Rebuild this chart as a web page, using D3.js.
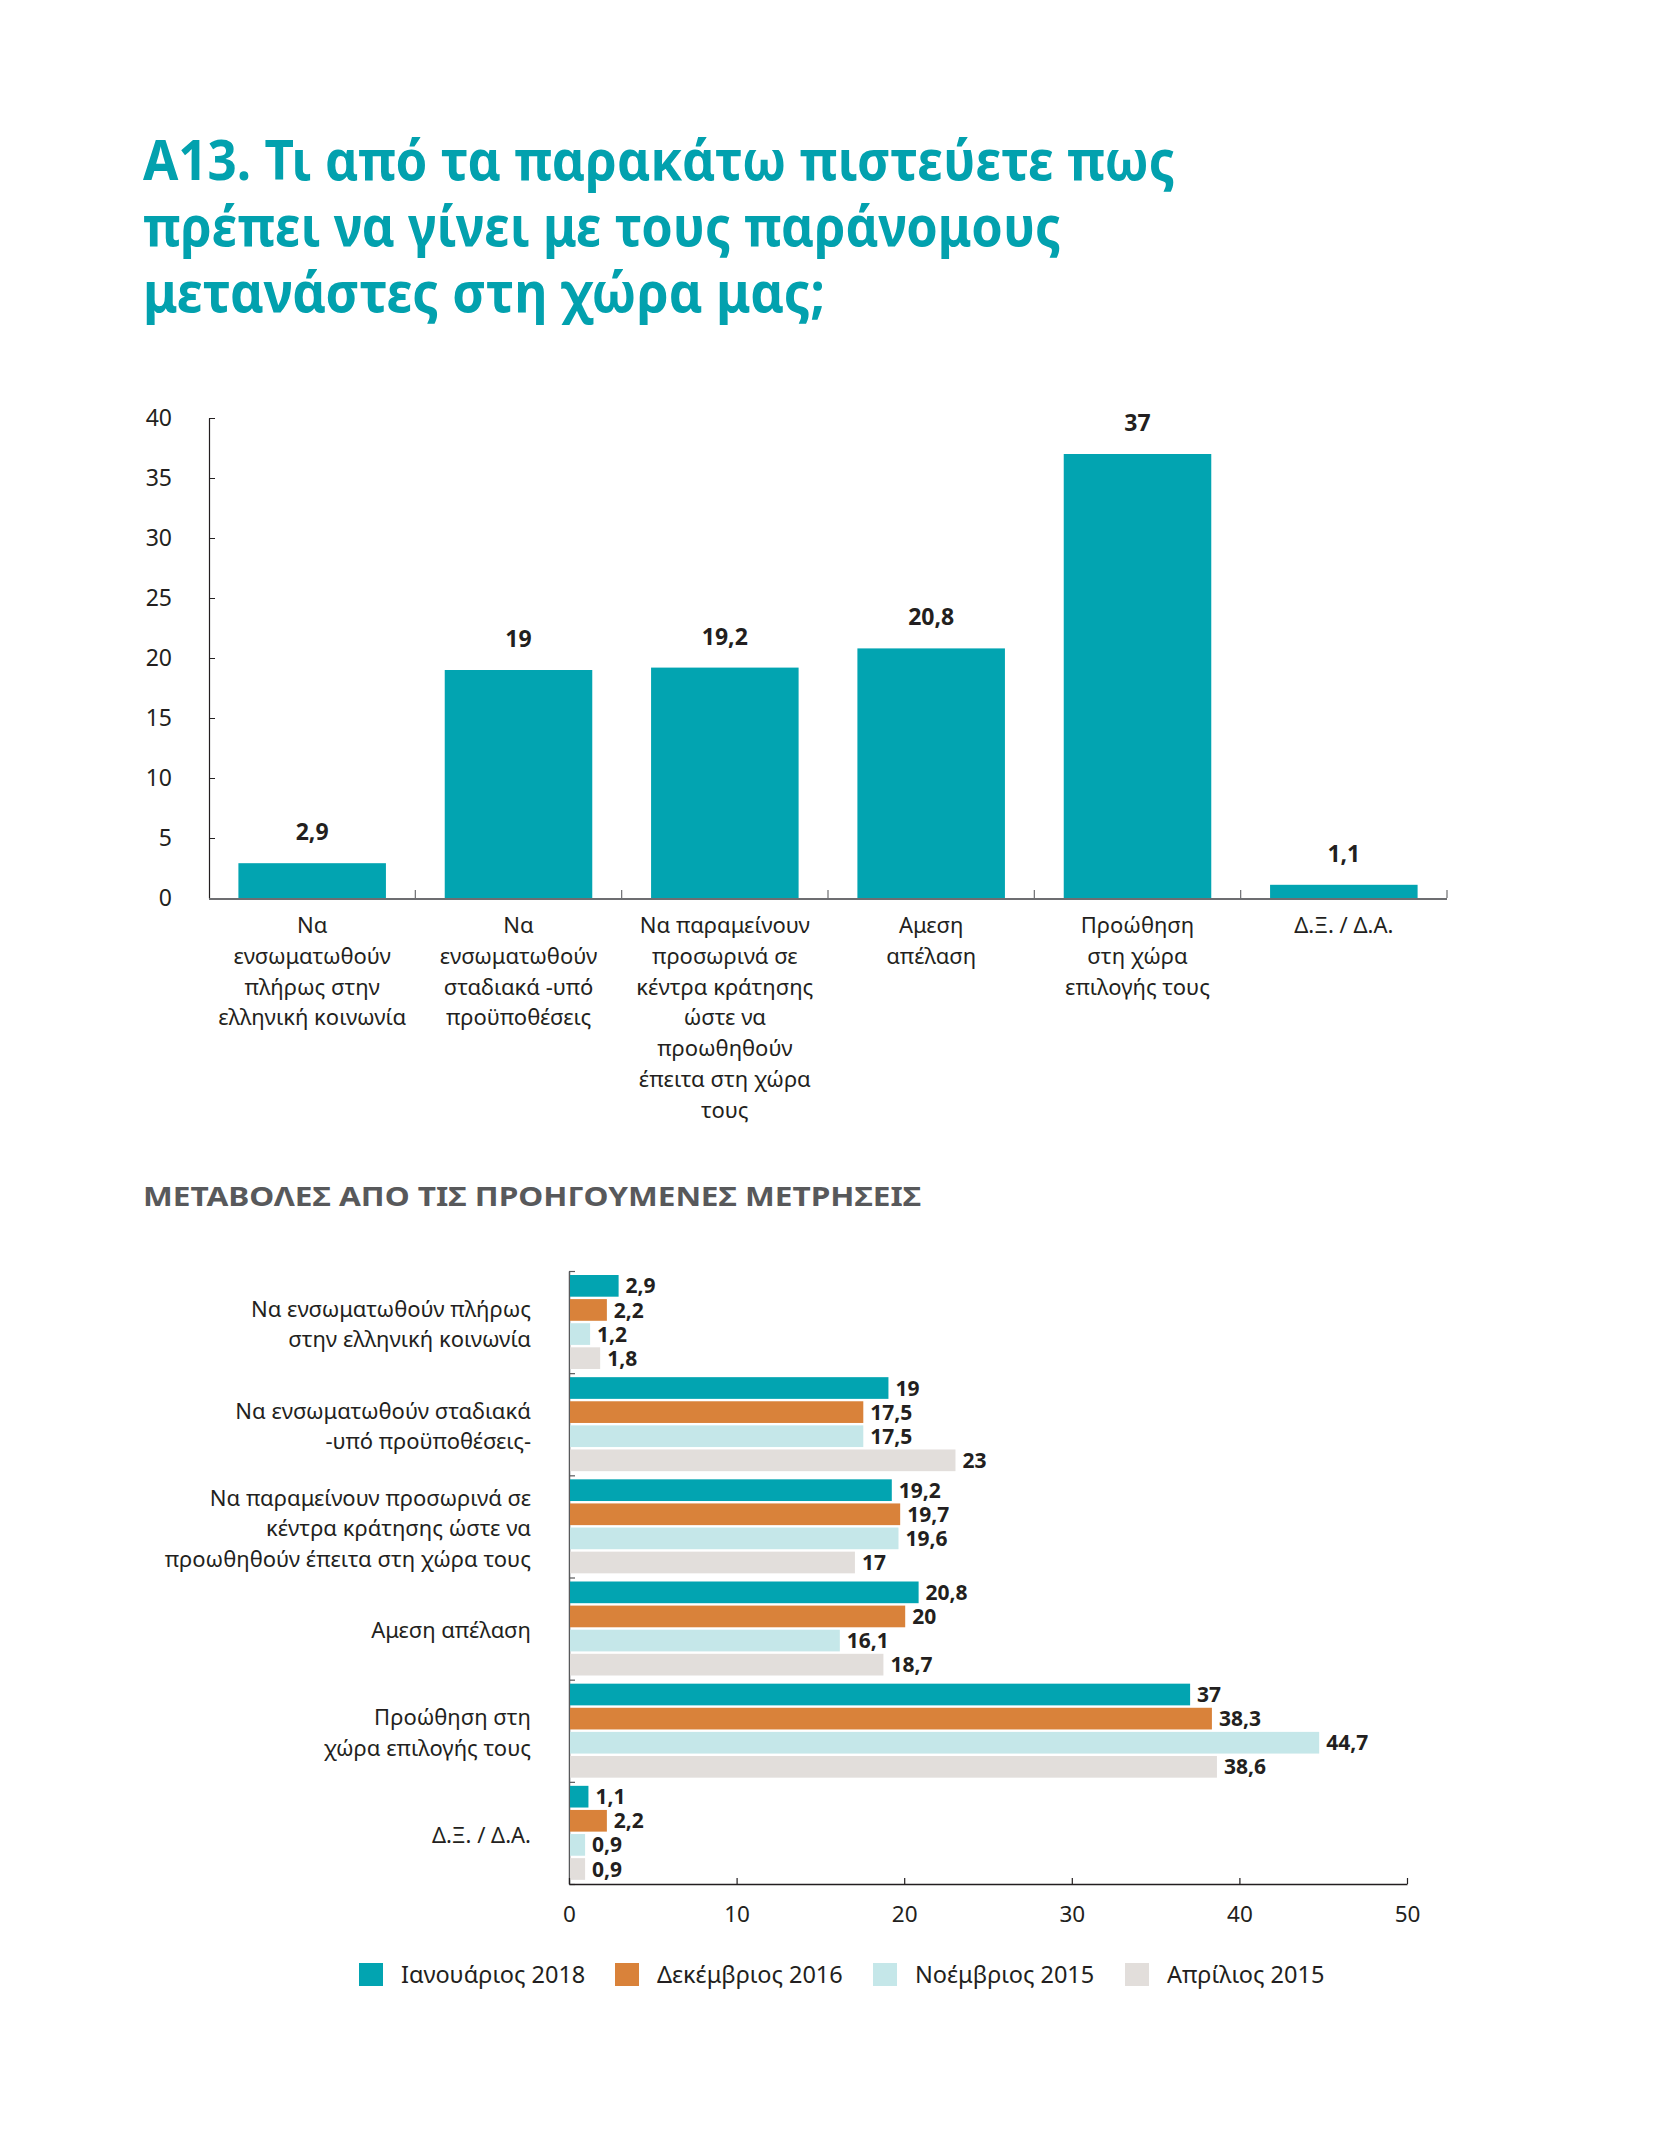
<!DOCTYPE html>
<html>
<head>
<meta charset="utf-8">
<script src="https://cdn.jsdelivr.net/npm/d3@7"></script>
<style>
  html, body { margin: 0; padding: 0; background: #ffffff; }
  svg { display: block; font-family: "Noto Sans", "Open Sans", "DejaVu Sans", sans-serif; }
</style>
</head>
<body>
<svg id="chart" width="1654" height="2151"></svg>
<script>
// ---------- DATA ----------
const titleLines = [
  "Α13. Τι από τα παρακάτω πιστεύετε πως",
  "πρέπει να γίνει με τους παράνομους",
  "μετανάστες στη χώρα μας;"
];
const sectionTitle = "ΜΕΤΑΒΟΛΕΣ ΑΠΟ ΤΙΣ ΠΡΟΗΓΟΥΜΕΝΕΣ ΜΕΤΡΗΣΕΙΣ";

const categories = ["c1", "c2", "c3", "c4", "c5", "c6"];
const topLabels = [
  ["Να", "ενσωματωθούν", "πλήρως στην", "ελληνική κοινωνία"],
  ["Να", "ενσωματωθούν", "σταδιακά -υπό", "προϋποθέσεις"],
  ["Να παραμείνουν", "προσωρινά σε", "κέντρα κράτησης", "ώστε να", "προωθηθούν", "έπειτα στη χώρα", "τους"],
  ["Αμεση", "απέλαση"],
  ["Προώθηση", "στη χώρα", "επιλογής τους"],
  ["Δ.Ξ. / Δ.Α."]
];
const bottomLabels = [
  ["Να ενσωματωθούν πλήρως", "στην ελληνική κοινωνία"],
  ["Να ενσωματωθούν σταδιακά", "-υπό προϋποθέσεις-"],
  ["Να παραμείνουν προσωρινά σε", "κέντρα κράτησης ώστε να", "προωθηθούν έπειτα στη χώρα τους"],
  ["Αμεση απέλαση"],
  ["Προώθηση στη", "χώρα επιλογής τους"],
  ["Δ.Ξ. / Δ.Α."]
];
const topValues = [2.9, 19, 19.2, 20.8, 37, 1.1];

const seriesNames = ["Ιανουάριος 2018", "Δεκέμβριος 2016", "Νοέμβριος 2015", "Απρίλιος 2015"];
const jan2018 = [2.9, 19, 19.2, 20.8, 37, 1.1];
const dec2016 = [2.2, 17.5, 19.7, 20, 38.3, 2.2];
const nov2015 = [1.2, 17.5, 19.6, 16.1, 44.7, 0.9];
const apr2015 = [1.8, 23, 17, 18.7, 38.6, 0.9];
const seriesValues = [jan2018, dec2016, nov2015, apr2015];
const seriesColors = ["#02A4B1", "#D9823A", "#C5E7E9", "#E2DEDB"];

const topTicks = [0, 5, 10, 15, 20, 25, 30, 35, 40];
const bottomTicks = [0, 10, 20, 30, 40, 50];

const fmt = v => String(v).replace(".", ",");

// ---------- DRAW ----------
const svg = d3.select("#chart");
const TEAL = "#02A1AE";
const DARK = "#231F20";

// Title
const titleWidths = [1032, 918, 682];
svg.append("g").selectAll("text").data(titleLines).join("text")
  .attr("x", 143)
  .attr("y", (d, i) => 180 + i * 66)
  .attr("font-size", 56)
  .attr("font-weight", 700)
  .attr("fill", TEAL)
  .attr("textLength", (d, i) => titleWidths[i])
  .attr("lengthAdjust", "spacingAndGlyphs")
  .text(d => d);

// ---------- Top bar chart ----------
const x1 = d3.scaleBand().domain(categories).range([209, 1447]).paddingInner(0.285).paddingOuter(0.1425);
const y1 = d3.scaleLinear().domain([0, 40]).range([898, 418]);

const g1 = svg.append("g");

g1.selectAll("rect.bar").data(categories).join("rect")
  .attr("class", "bar")
  .attr("x", d => x1(d))
  .attr("width", x1.bandwidth())
  .attr("y", (d, i) => y1(topValues[i]))
  .attr("height", (d, i) => y1(0) - y1(topValues[i]))
  .attr("fill", "#02A4B1");

g1.selectAll("text.val").data(categories).join("text")
  .attr("class", "val")
  .attr("x", d => x1(d) + x1.bandwidth() / 2)
  .attr("y", (d, i) => y1(topValues[i]) - 23)
  .attr("text-anchor", "middle")
  .attr("font-size", 23)
  .attr("font-weight", 700)
  .attr("fill", DARK)
  .text((d, i) => fmt(topValues[i]));

// y axis
const yAxis1 = g1.append("g")
  .attr("transform", "translate(209,0)")
  .call(d3.axisLeft(y1).tickValues(topTicks).tickSizeInner(-6).tickSizeOuter(0).tickPadding(37));
yAxis1.select(".domain").attr("stroke", DARK).attr("stroke-width", 1.2);
yAxis1.selectAll(".tick line").attr("stroke", DARK).attr("stroke-width", 1);
yAxis1.selectAll(".tick text").attr("font-size", 23).attr("fill", DARK)
  .attr("font-family", "\"Noto Sans\", sans-serif");

// x axis line + boundary ticks
const step1 = x1.step();
const bounds = categories.map(d => x1(d) - step1 * x1.paddingInner() / 2).concat([x1.range()[1]]);
g1.append("line")
  .attr("x1", x1.range()[0]).attr("x2", x1.range()[1])
  .attr("y1", y1(0) + 1).attr("y2", y1(0) + 1)
  .attr("stroke", "#6D6E71").attr("stroke-width", 2);
g1.selectAll("line.bt").data(bounds.slice(1)).join("line")
  .attr("class", "bt")
  .attr("x1", d => d).attr("x2", d => d)
  .attr("y1", y1(0)).attr("y2", y1(0) - 8)
  .attr("stroke", "#6D6E71").attr("stroke-width", 1.2);

// category labels
const catG = g1.selectAll("text.cat").data(categories).join("text")
  .attr("class", "cat")
  .attr("text-anchor", "middle")
  .attr("font-size", 22)
  .attr("fill", DARK);
catG.each(function(d, i) {
  const t = d3.select(this);
  topLabels[i].forEach((line, j) => {
    t.append("tspan")
      .attr("x", x1(d) + x1.bandwidth() / 2)
      .attr("y", 925 + j * 30.8 + 8)
      .text(line);
  });
});

// ---------- Section heading ----------
svg.append("text")
  .attr("x", 143).attr("y", 1206)
  .attr("font-size", 27)
  .attr("font-weight", 700)
  .attr("fill", "#58595B")
  .attr("textLength", 778)
  .attr("lengthAdjust", "spacingAndGlyphs")
  .text(sectionTitle);

// ---------- Bottom grouped horizontal bar chart ----------
const x2 = d3.scaleLinear().domain([0, 50]).range([569, 1407]);
const y2 = d3.scaleBand().domain(categories).range([1271, 1884]).padding(0);
const yInner = d3.scaleBand().domain(seriesNames).range([4, 98]).paddingInner(0.1);

const g2 = svg.append("g");

// y axis (left line with inward ticks)
const yAxis2 = g2.append("g")
  .attr("transform", "translate(569,0)")
  .call(d3.axisLeft(d3.scaleLinear().domain([0, 6]).range([1271, 1884]))
    .tickValues([0, 1, 2, 3, 4, 5, 6]).tickSizeInner(-6).tickSizeOuter(0).tickFormat(""));
yAxis2.select(".domain").attr("stroke", "#58595B").attr("stroke-width", 1.5);
yAxis2.selectAll(".tick line").attr("stroke", "#58595B").attr("stroke-width", 1.2);

const groups = g2.selectAll("g.grp").data(categories).join("g")
  .attr("class", "grp")
  .attr("transform", d => `translate(0,${y2(d)})`);

groups.each(function(cat, ci) {
  const g = d3.select(this);
  seriesNames.forEach((s, si) => {
    const v = seriesValues[si][ci];
    g.append("rect")
      .attr("x", x2(0) + 1)
      .attr("y", yInner(s))
      .attr("width", x2(v) - x2(0))
      .attr("height", yInner.bandwidth())
      .attr("fill", seriesColors[si]);
    g.append("text")
      .attr("x", x2(v) + 8)
      .attr("y", yInner(s) + yInner.bandwidth() / 2)
      .attr("dy", "0.36em")
      .attr("font-size", 21)
      .attr("font-weight", 700)
      .attr("fill", DARK)
      .text(fmt(v));
  });
});

// group labels
g2.selectAll("text.glab").data(categories).join("text")
  .attr("class", "glab")
  .attr("text-anchor", "end")
  .attr("font-size", 22)
  .attr("fill", DARK)
  .each(function(d, i) {
    const t = d3.select(this);
    const lines = bottomLabels[i];
    const cy = y2(d) + y2.bandwidth() / 2 + 2;
    const lh = 30.5;
    lines.forEach((line, j) => {
      t.append("tspan")
        .attr("x", 531)
        .attr("y", cy + (j - (lines.length - 1) / 2) * lh)
        .attr("dy", "0.35em")
        .text(line);
    });
  });

// x axis
const xAxis2 = g2.append("g")
  .attr("transform", "translate(0,1884)")
  .call(d3.axisBottom(x2).tickValues(bottomTicks).tickSizeInner(-6).tickSizeOuter(0).tickPadding(22));
xAxis2.select(".domain").attr("stroke", DARK).attr("stroke-width", 1.5);
xAxis2.selectAll(".tick line").attr("stroke", DARK).attr("stroke-width", 1.2);
xAxis2.selectAll(".tick text").attr("font-size", 22.5).attr("fill", DARK)
  .attr("font-family", "\"Noto Sans\", sans-serif");

// ---------- Legend ----------
const legendX = [359, 615, 873, 1125];
const leg = svg.append("g").selectAll("g").data(seriesNames).join("g")
  .attr("transform", (d, i) => `translate(${legendX[i]},1963)`);
leg.append("rect").attr("width", 24).attr("height", 23).attr("fill", (d, i) => seriesColors[i]);
leg.append("text")
  .attr("x", 42).attr("y", 12).attr("dy", "0.35em")
  .attr("font-size", 23.5).attr("fill", DARK)
  .text(d => d);
</script>
</body>
</html>
